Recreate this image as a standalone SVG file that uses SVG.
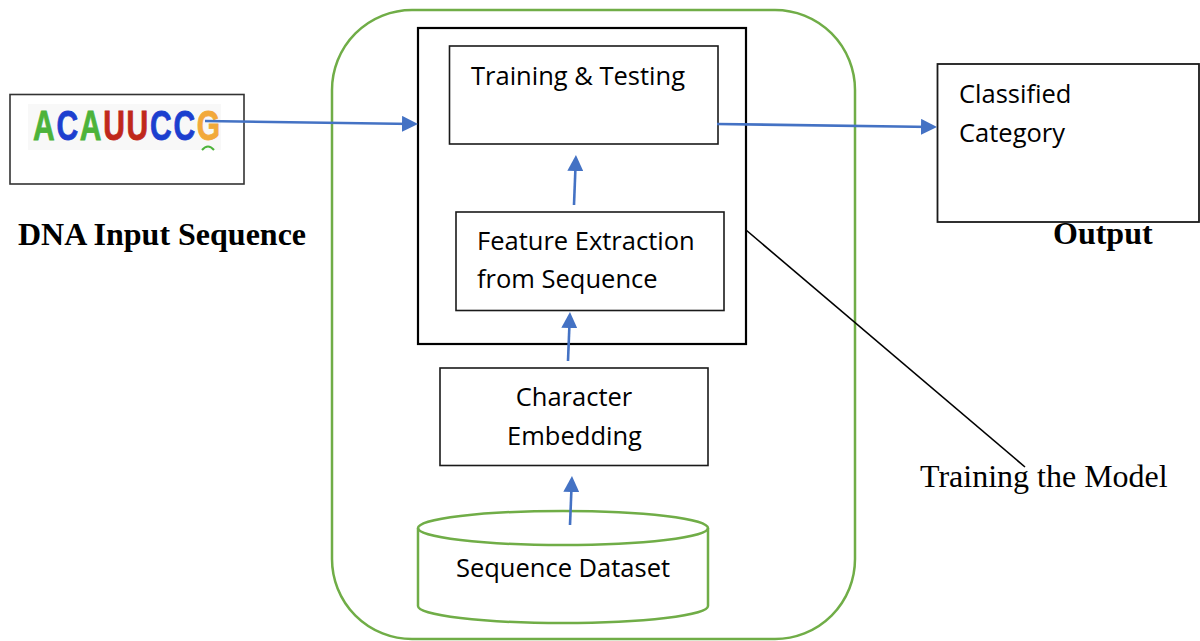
<svg xmlns="http://www.w3.org/2000/svg" width="1200" height="641" viewBox="0 0 1200 641">
<style>
.box{fill:none;stroke:#1a1a1a;stroke-width:1.6}
.lbl{font-family:"Open Sans","Liberation Sans",sans-serif;font-size:25.5px;fill:#000}
.ser{font-family:"Liberation Serif","Times New Roman",serif;font-size:32px;fill:#000}
.arr{stroke:#4472c4;stroke-width:2.6;fill:none;marker-end:url(#ah)}
.green{fill:none;stroke:#70ad47;stroke-width:2.5}
.nt{font-family:"Liberation Sans",Arial,sans-serif;font-weight:bold;font-size:30px;stroke-width:0.6}
.a{fill:#4cb33a;stroke:#4cb33a}
.c{fill:#1c3fcf;stroke:#1c3fcf}
.u{fill:#c0281c;stroke:#c0281c}
.g{fill:#f2a93b;stroke:#f2a93b}
</style>
<defs>
<marker id="ah" viewBox="0 0 10 10" refX="7.5" refY="5" markerWidth="16" markerHeight="16" markerUnits="userSpaceOnUse" orient="auto">
<path d="M0,0 L10,5 L0,10 z" fill="#4472c4"/>
</marker>
</defs>
<rect width="1200" height="641" fill="#fff"/>

<g id="container">
<rect class="green" x="332" y="10" width="523" height="629" rx="80" ry="80"/>
</g>

<g id="dna-input">
<rect x="10" y="94.5" width="234" height="89.5" fill="#fff" stroke="#333" stroke-width="1.6"/>
<rect x="28" y="104" width="193" height="46" fill="#f8f8f8"/>
<text class="nt a" transform="translate(33,140) scale(1,1.4)">A</text>
<text class="nt c" transform="translate(56.4,140) scale(1,1.4)">C</text>
<text class="nt a" transform="translate(79.8,140) scale(1,1.4)">A</text>
<text class="nt u" transform="translate(103.2,140) scale(1,1.4)">U</text>
<text class="nt u" transform="translate(126.6,140) scale(1,1.4)">U</text>
<text class="nt c" transform="translate(150,140) scale(1,1.4)">C</text>
<text class="nt c" transform="translate(173.4,140) scale(1,1.4)">C</text>
<text class="nt g" transform="translate(196.8,140) scale(1,1.4)">G</text>
<path d="M202,150 Q208,143 214,150" fill="none" stroke="#4cb33a" stroke-width="2"/>
<text class="ser" x="18" y="245" font-weight="bold">DNA Input Sequence</text>
</g>

<g id="model-box">
<rect x="418" y="28" width="328" height="316" fill="none" stroke="#000" stroke-width="2.2"/>
</g>

<g id="training-testing">
<rect class="box" x="449.5" y="46" width="268.5" height="98" fill="#fff"/>
<text class="lbl" x="471" y="85">Training &amp; Testing</text>
</g>

<g id="feature-extraction">
<rect class="box" x="456" y="212" width="268" height="98.5"/>
<text class="lbl" x="477" y="250">Feature Extraction</text>
<text class="lbl" x="477" y="288">from Sequence</text>
</g>

<g id="character-embedding">
<rect class="box" x="440" y="368" width="268" height="97.5"/>
<text class="lbl" x="574" y="406" text-anchor="middle">Character</text>
<text class="lbl" x="574.5" y="445" text-anchor="middle">Embedding</text>
</g>

<g id="sequence-dataset">
<path class="green" d="M418,528 L418,606 A145,17 0 0 0 708,606 L708,528" fill="#fff"/>
<ellipse class="green" cx="563" cy="528" rx="145" ry="17"/>
<text class="lbl" x="563" y="577" text-anchor="middle">Sequence Dataset</text>
</g>

<g id="output">
<rect x="937.5" y="64" width="261.5" height="158" fill="#fff" stroke="#1a1a1a" stroke-width="1.8"/>
<text class="lbl" x="959" y="102.5">Classified</text>
<text class="lbl" x="959" y="141.5">Category</text>
<text class="ser" x="1053" y="244" font-weight="bold">Output</text>
</g>

<g id="training-label">
<text class="ser" x="920" y="487">Training the Model</text>
</g>

<g id="connectors">
<line class="arr" x1="205" y1="121" x2="414" y2="124"/>
<line class="arr" x1="717" y1="124" x2="933" y2="127"/>
<line class="arr" x1="574" y1="205" x2="575.8" y2="159"/>
<line class="arr" x1="568" y1="361" x2="569.8" y2="316"/>
<line class="arr" x1="570" y1="525" x2="571.8" y2="480"/>
<line x1="746" y1="230" x2="1025" y2="467" stroke="#000" stroke-width="1.6"/>
</g>
</svg>
